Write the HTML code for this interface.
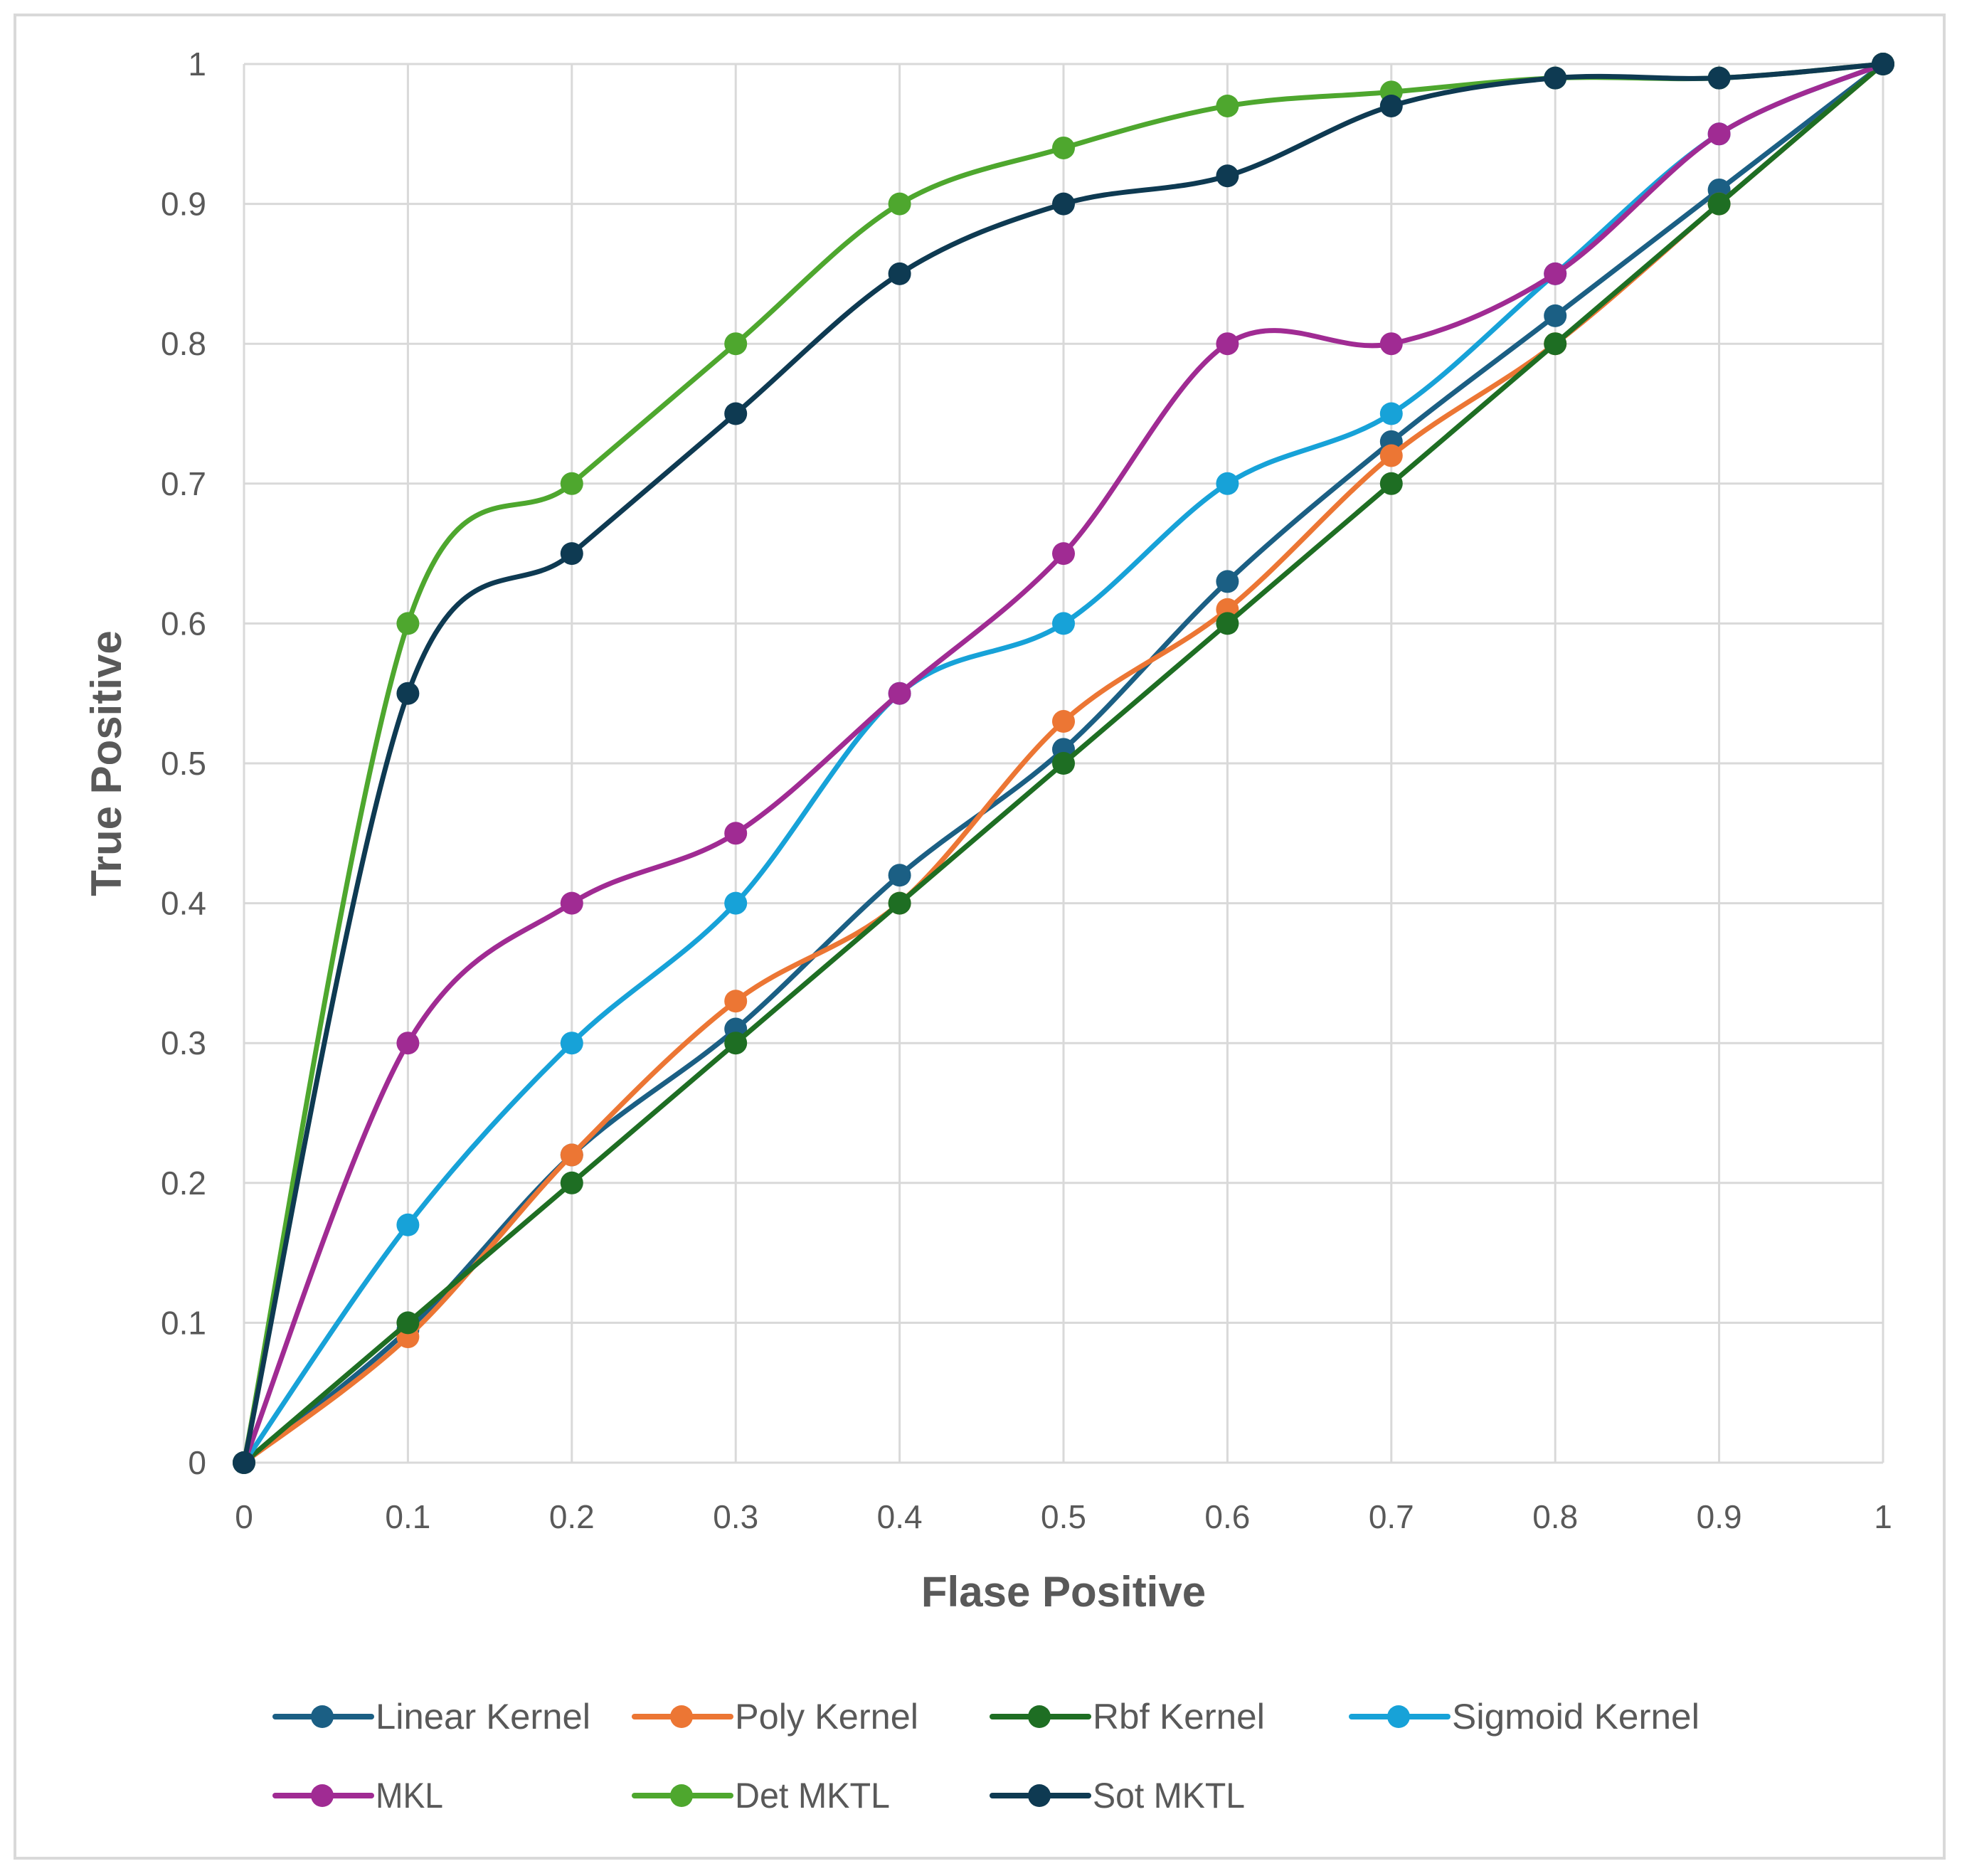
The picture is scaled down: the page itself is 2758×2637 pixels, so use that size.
<!DOCTYPE html>
<html><head><meta charset="utf-8"><style>
html,body{margin:0;padding:0;background:#fff;}
svg{display:block;font-family:"Liberation Sans",sans-serif;}
</style></head><body>
<svg id="chart" width="2758" height="2637" viewBox="0 0 2758 2637">
<rect x="21" y="21" width="2712" height="2591" fill="#fff" stroke="#d9d9d9" stroke-width="4"/>
<g id="grid"></g>
<g id="ticks"></g>
<g id="series"></g>
<text x="1495" y="2258" text-anchor="middle" font-size="60" font-weight="bold" fill="#595959">Flase Positive</text>
<text transform="translate(170,1073) rotate(-90)" text-anchor="middle" font-size="60" font-weight="bold" fill="#595959">True Positive</text>
<g id="legend"></g>
</svg>
<script>
const xVals=[0,0.1,0.2,0.3,0.4,0.5,0.6,0.7,0.8,0.9,1];
const xTicks=["0","0.1","0.2","0.3","0.4","0.5","0.6","0.7","0.8","0.9","1"];
const yTicks=["0","0.1","0.2","0.3","0.4","0.5","0.6","0.7","0.8","0.9","1"];
const seriesNames=["Linear Kernel","Poly Kernel","Rbf Kernel","Sigmoid Kernel","MKL","Det MKTL","Sot MKTL"];
const linearVals=[0,0.095,0.22,0.31,0.42,0.51,0.63,0.73,0.82,0.91,1];
const polyVals=[0,0.09,0.22,0.33,0.40,0.53,0.61,0.72,0.80,0.90,1];
const rbfVals=[0,0.10,0.20,0.30,0.40,0.50,0.60,0.70,0.80,0.90,1];
const sigmoidVals=[0,0.17,0.30,0.40,0.55,0.60,0.70,0.75,0.85,0.95,1];
const mklVals=[0,0.30,0.40,0.45,0.55,0.65,0.80,0.80,0.85,0.95,1];
const detVals=[0,0.60,0.70,0.80,0.90,0.94,0.97,0.98,0.99,0.99,1];
const sotVals=[0,0.55,0.65,0.75,0.85,0.90,0.92,0.97,0.99,0.99,1];
const colors=["#1b5f84","#ec7634","#1e6e23","#17a2d8","#a02b93","#4ea72e","#0e3a52"];
const allVals=[linearVals,polyVals,rbfVals,sigmoidVals,mklVals,detVals,sotVals];

const L=343,R=2647,T=90,B=2056;
const sx=v=>L+(R-L)*v, sy=v=>B-(B-T)*v;
const NS="http://www.w3.org/2000/svg";
function mk(tag,attrs,parent){const e=document.createElementNS(NS,tag);for(const k in attrs)e.setAttribute(k,attrs[k]);parent.appendChild(e);return e;}
const grid=document.getElementById('grid'),ticks=document.getElementById('ticks'),ser=document.getElementById('series'),leg=document.getElementById('legend');
xTicks.forEach((t,i)=>{const v=i/10;
 const g=mk('line',{x1:sx(v),x2:sx(v),y1:T,y2:B,stroke:'#d9d9d9','stroke-width':3},grid);
 
 
 const tx=mk('text',{x:sx(v),y:B+92,'text-anchor':'middle','font-size':46,fill:'#595959'},ticks);tx.textContent=t;
 
 
});
yTicks.forEach((t,i)=>{const v=i/10;
 const g=mk('line',{x1:L,x2:R,y1:sy(v),y2:sy(v),stroke:'#d9d9d9','stroke-width':3},grid);
 
 
 const tx=mk('text',{x:290,y:sy(v)+16,'text-anchor':'end','font-size':46,fill:'#595959'},ticks);tx.textContent=t;
 
 
});
function smooth(pts){let d=`M${pts[0][0]},${pts[0][1]}`;const k=1/6;
 for(let i=0;i<pts.length-1;i++){const p0=pts[Math.max(0,i-1)],p1=pts[i],p2=pts[i+1],p3=pts[Math.min(pts.length-1,i+2)];
  const c1=[p1[0]+(p2[0]-p0[0])*k,p1[1]+(p2[1]-p0[1])*k],c2=[p2[0]-(p3[0]-p1[0])*k,p2[1]-(p3[1]-p1[1])*k];
  d+=` C${c1[0]},${c1[1]} ${c2[0]},${c2[1]} ${p2[0]},${p2[1]}`;}
 return d;}
allVals.forEach((vals,s)=>{
 const g=mk('g',{},ser);
 
 
 const pts=vals.map((v,i)=>[sx(xVals[i]),sy(v)]);
 const p=mk('path',{d:smooth(pts),fill:'none',stroke:colors[s],'stroke-width':7,'stroke-linecap':'round'},g);
 
 
 pts.forEach(pt=>{const c=mk('circle',{cx:pt[0],cy:pt[1],r:16,fill:colors[s]},g);
  
  });
});
const legX=[387,892,1395,1900],legY=[2413,2524],legW=[302,258,242,348,95,218,214];
seriesNames.forEach((n,i)=>{const x=legX[i%4],y=legY[Math.floor(i/4)];
 const g=mk('g',{},leg);
 
 
 mk('line',{x1:x,x2:x+135,y1:y,y2:y,stroke:colors[i],'stroke-width':8,'stroke-linecap':'round'},g);
 mk('circle',{cx:x+66,cy:y,r:16,fill:colors[i]},g);
 const t=mk('text',{x:x+141,y:y+17,'font-size':50,fill:'#595959',textLength:legW[i],lengthAdjust:'spacingAndGlyphs'},g);t.textContent=n;
});
</script>
</body></html>
